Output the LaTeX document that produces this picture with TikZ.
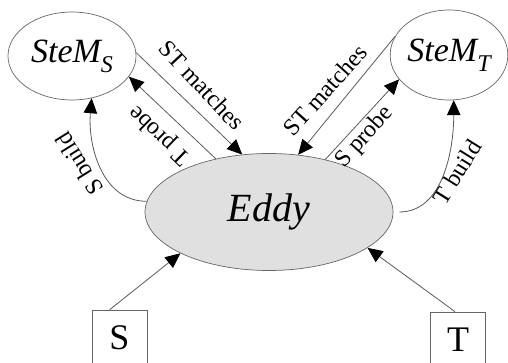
\documentclass[tikz,border=0pt]{standalone}
\usepackage{fontspec}
\setmainfont{Liberation Serif}
\usetikzlibrary{shapes.geometric,arrows.meta}
\begin{document}
\begin{tikzpicture}[x=1pt,y=1pt,
  ln/.style={draw=black!65, line width=0.8pt, -{Triangle[length=15pt,width=13.5pt,color=black]}},
  ell/.style={ellipse, draw=black!60, line width=0.7pt, inner sep=0pt},
  lbl/.style={font=\fontsize{24}{24}\selectfont, inner sep=0pt},
  boxnode/.style={rectangle, draw=black!60, line width=0.7pt, minimum width=55pt, minimum height=56pt, inner sep=0pt, font=\fontsize{36}{36}\selectfont}]
\useasboundingbox (0,0) rectangle (508,363);
\node[ell, minimum width=128pt, minimum height=88pt, font=\fontsize{34}{34}\selectfont\itshape] (stems) at (72,307) {SteM\raisebox{-0.3em}{\fontsize{24}{24}\selectfont S}};
\node[ell, minimum width=114pt, minimum height=90pt, font=\fontsize{34}{34}\selectfont\itshape] (stemt) at (449,308) {SteM\raisebox{-0.3em}{\fontsize{24}{24}\selectfont T}};
\node[ell, fill=black!12, minimum width=248pt, minimum height=117pt, font=\fontsize{40}{40}\selectfont\itshape] (eddy) at (269,151) {Eddy};
\node[boxnode] (sbox) at (119.5,25) {S};
\node[boxnode] (tbox) at (458,23) {T};

\draw[ln] (stems.3) -- (eddy.115);
\draw[ln] (eddy.135) -- (stems.-20);
\draw[ln] (eddy.175) to[out=180,in=-95] (stems.-65);
\draw[ln] (stemt.161) -- (eddy.63);
\draw[ln] (eddy.43) -- (stemt.206);
\draw[ln, shorten <=6pt] (eddy.0) to[out=0,in=-90] (stemt.-84);
\draw[ln] (sbox.109) -- (eddy.205);
\draw[ln] (tbox.96) -- (eddy.-20);

\node[lbl, rotate=-47] (l1) at (202,278) {ST matches};
\node[lbl, rotate=136] (l2) at (160,228) {T probe};
\node[lbl, rotate=122] (l3) at (79,199) {S build};
\node[lbl, rotate=48] (l4) at (325,273) {ST matches};
\node[lbl, rotate=48] (l5) at (365,226) {S probe};
\node[lbl, rotate=58] (l6) at (457,191) {T build};
\end{tikzpicture}
\end{document}
